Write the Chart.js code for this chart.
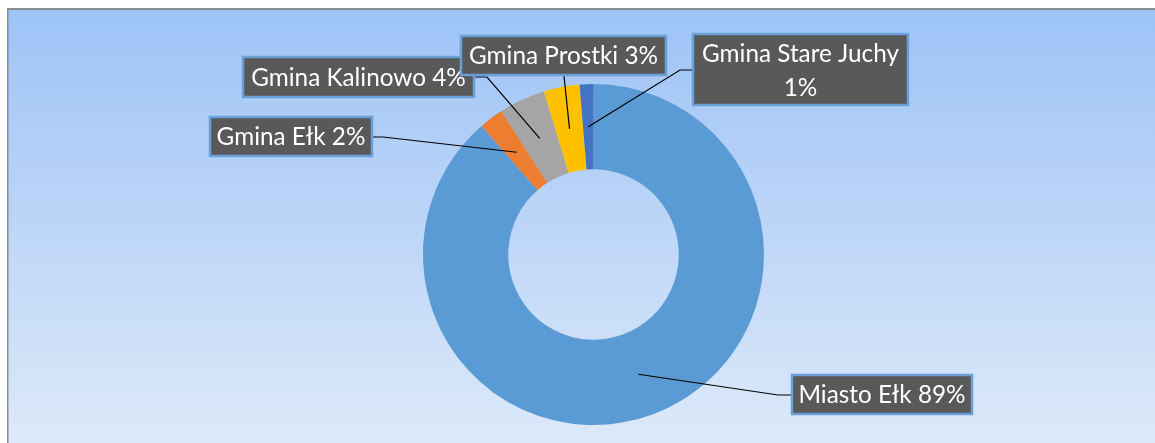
<!DOCTYPE html>
<html>
<head>
<meta charset="utf-8">
<script src="https://cdn.jsdelivr.net/npm/chart.js@4.4.0/dist/chart.umd.min.js"></script>
<style>
  html, body { margin: 0; padding: 0; background: #ffffff; }
  #wrap { width: 1155px; height: 443px; position: relative; }
</style>
</head>
<body>
<div id="wrap"><canvas id="c" width="1155" height="443"></canvas></div>
<script>
// ---- data ----
const categories = ['Miasto Ełk', 'Gmina Ełk', 'Gmina Kalinowo', 'Gmina Prostki', 'Gmina Stare Juchy'];
const shares = [88.6, 2.3, 4.4, 3.4, 1.3];
const sliceColors = ['#5B9BD5', '#ED7D31', '#A5A5A5', '#FFC000', '#4472C4'];

// ---- label layout (box rect + elbow point), per category ----
const labelBoxes = [
  { x: 791, y: 374, w: 182, h: 41, elbow: [778, 395], end: [791, 395], lines: 1 },
  { x: 209, y: 116, w: 164, h: 41, elbow: [383, 137], end: [373, 137], lines: 1 },
  { x: 242, y: 56,  w: 233, h: 42, elbow: [487, 77],  end: [475, 77],  lines: 1 },
  { x: 460, y: 35,  w: 207, h: 41, elbow: null,       end: [564, 76],  lines: 1 },
  { x: 692, y: 33,  w: 217, h: 73, elbow: [680, 70],  end: [692, 70],  lines: 2 }
];
const drawOrder = [0, 1, 2, 4, 3];

const FONT_FAMILY = 'Lato, "Noto Sans", sans-serif';

const bgPlugin = {
  id: 'bg',
  beforeDraw(chart) {
    const ctx = chart.ctx;
    const W = chart.width, H = chart.height;
    ctx.save();
    ctx.fillStyle = '#ffffff';
    ctx.fillRect(0, 0, W, H);
    const g = ctx.createLinearGradient(0, 10, 0, H);
    g.addColorStop(0, 'rgb(157,195,246)');
    g.addColorStop(1, 'rgb(221,233,249)');
    ctx.fillStyle = g;
    ctx.fillRect(8, 10, W - 8, H - 10);
    ctx.fillStyle = '#8c8c8c';
    ctx.fillRect(7, 8, W - 7, 2);
    ctx.fillRect(7, 8, 1.5, H - 8);
    ctx.restore();
  }
};

const labelPlugin = {
  id: 'calloutLabels',
  afterDatasetsDraw(chart) {
    const ctx = chart.ctx;
    const meta = chart.getDatasetMeta(0);
    const data = chart.data.datasets[0].data;
    const total = data.reduce((a, b) => a + b, 0);
    ctx.save();
    // fit font size to reference text width
    ctx.font = '22px ' + FONT_FAMILY;
    const ref = ctx.measureText('Gmina Prostki 3%').width;
    const fs = 22 * 189 / ref;
    ctx.font = fs.toFixed(2) + 'px ' + FONT_FAMILY;

    // leader lines
    ctx.strokeStyle = '#000000';
    ctx.lineWidth = 1.2;
    drawOrder.forEach(i => {
      const el = meta.data[i];
      const p = el.tooltipPosition();
      const L = labelBoxes[i];
      ctx.beginPath();
      ctx.moveTo(p.x, p.y);
      if (L.elbow) ctx.lineTo(L.elbow[0], L.elbow[1]);
      ctx.lineTo(L.end[0], L.end[1]);
      ctx.stroke();
    });

    // boxes
    drawOrder.forEach(i => {
      const L = labelBoxes[i];
      const pct = Math.round(data[i] / total * 100) + '%';
      const lines = L.lines === 2 ? [categories[i], pct] : [categories[i] + ' ' + pct];
      ctx.fillStyle = '#595959';
      ctx.fillRect(L.x, L.y, L.w, L.h);
      ctx.strokeStyle = '#6A9FD8';
      ctx.lineWidth = 2.5;
      ctx.strokeRect(L.x + 1, L.y + 1, L.w - 2, L.h - 2);
      ctx.fillStyle = '#ffffff';
      ctx.textAlign = 'center';
      ctx.textBaseline = 'middle';
      const cx = L.x + L.w / 2;
      if (lines.length === 1) {
        ctx.fillText(lines[0], cx, L.y + L.h / 2 + 1);
      } else {
        ctx.fillText(lines[0], cx, L.y + 21);
        ctx.fillText(lines[1], cx, L.y + 55);
      }
    });
    ctx.restore();
  }
};

new Chart(document.getElementById('c'), {
  type: 'doughnut',
  data: {
    labels: categories,
    datasets: [{
      data: shares,
      backgroundColor: sliceColors,
      borderWidth: 0,
      hoverOffset: 0
    }]
  },
  options: {
    responsive: false,
    animation: false,
    cutout: '50%',
    rotation: 0,
    layout: { padding: { top: 84, bottom: 18, left: 32, right: 0 } },
    plugins: {
      legend: { display: false },
      tooltip: { enabled: false },
      title: { display: false }
    }
  },
  plugins: [bgPlugin, labelPlugin]
});
</script>
</body>
</html>
